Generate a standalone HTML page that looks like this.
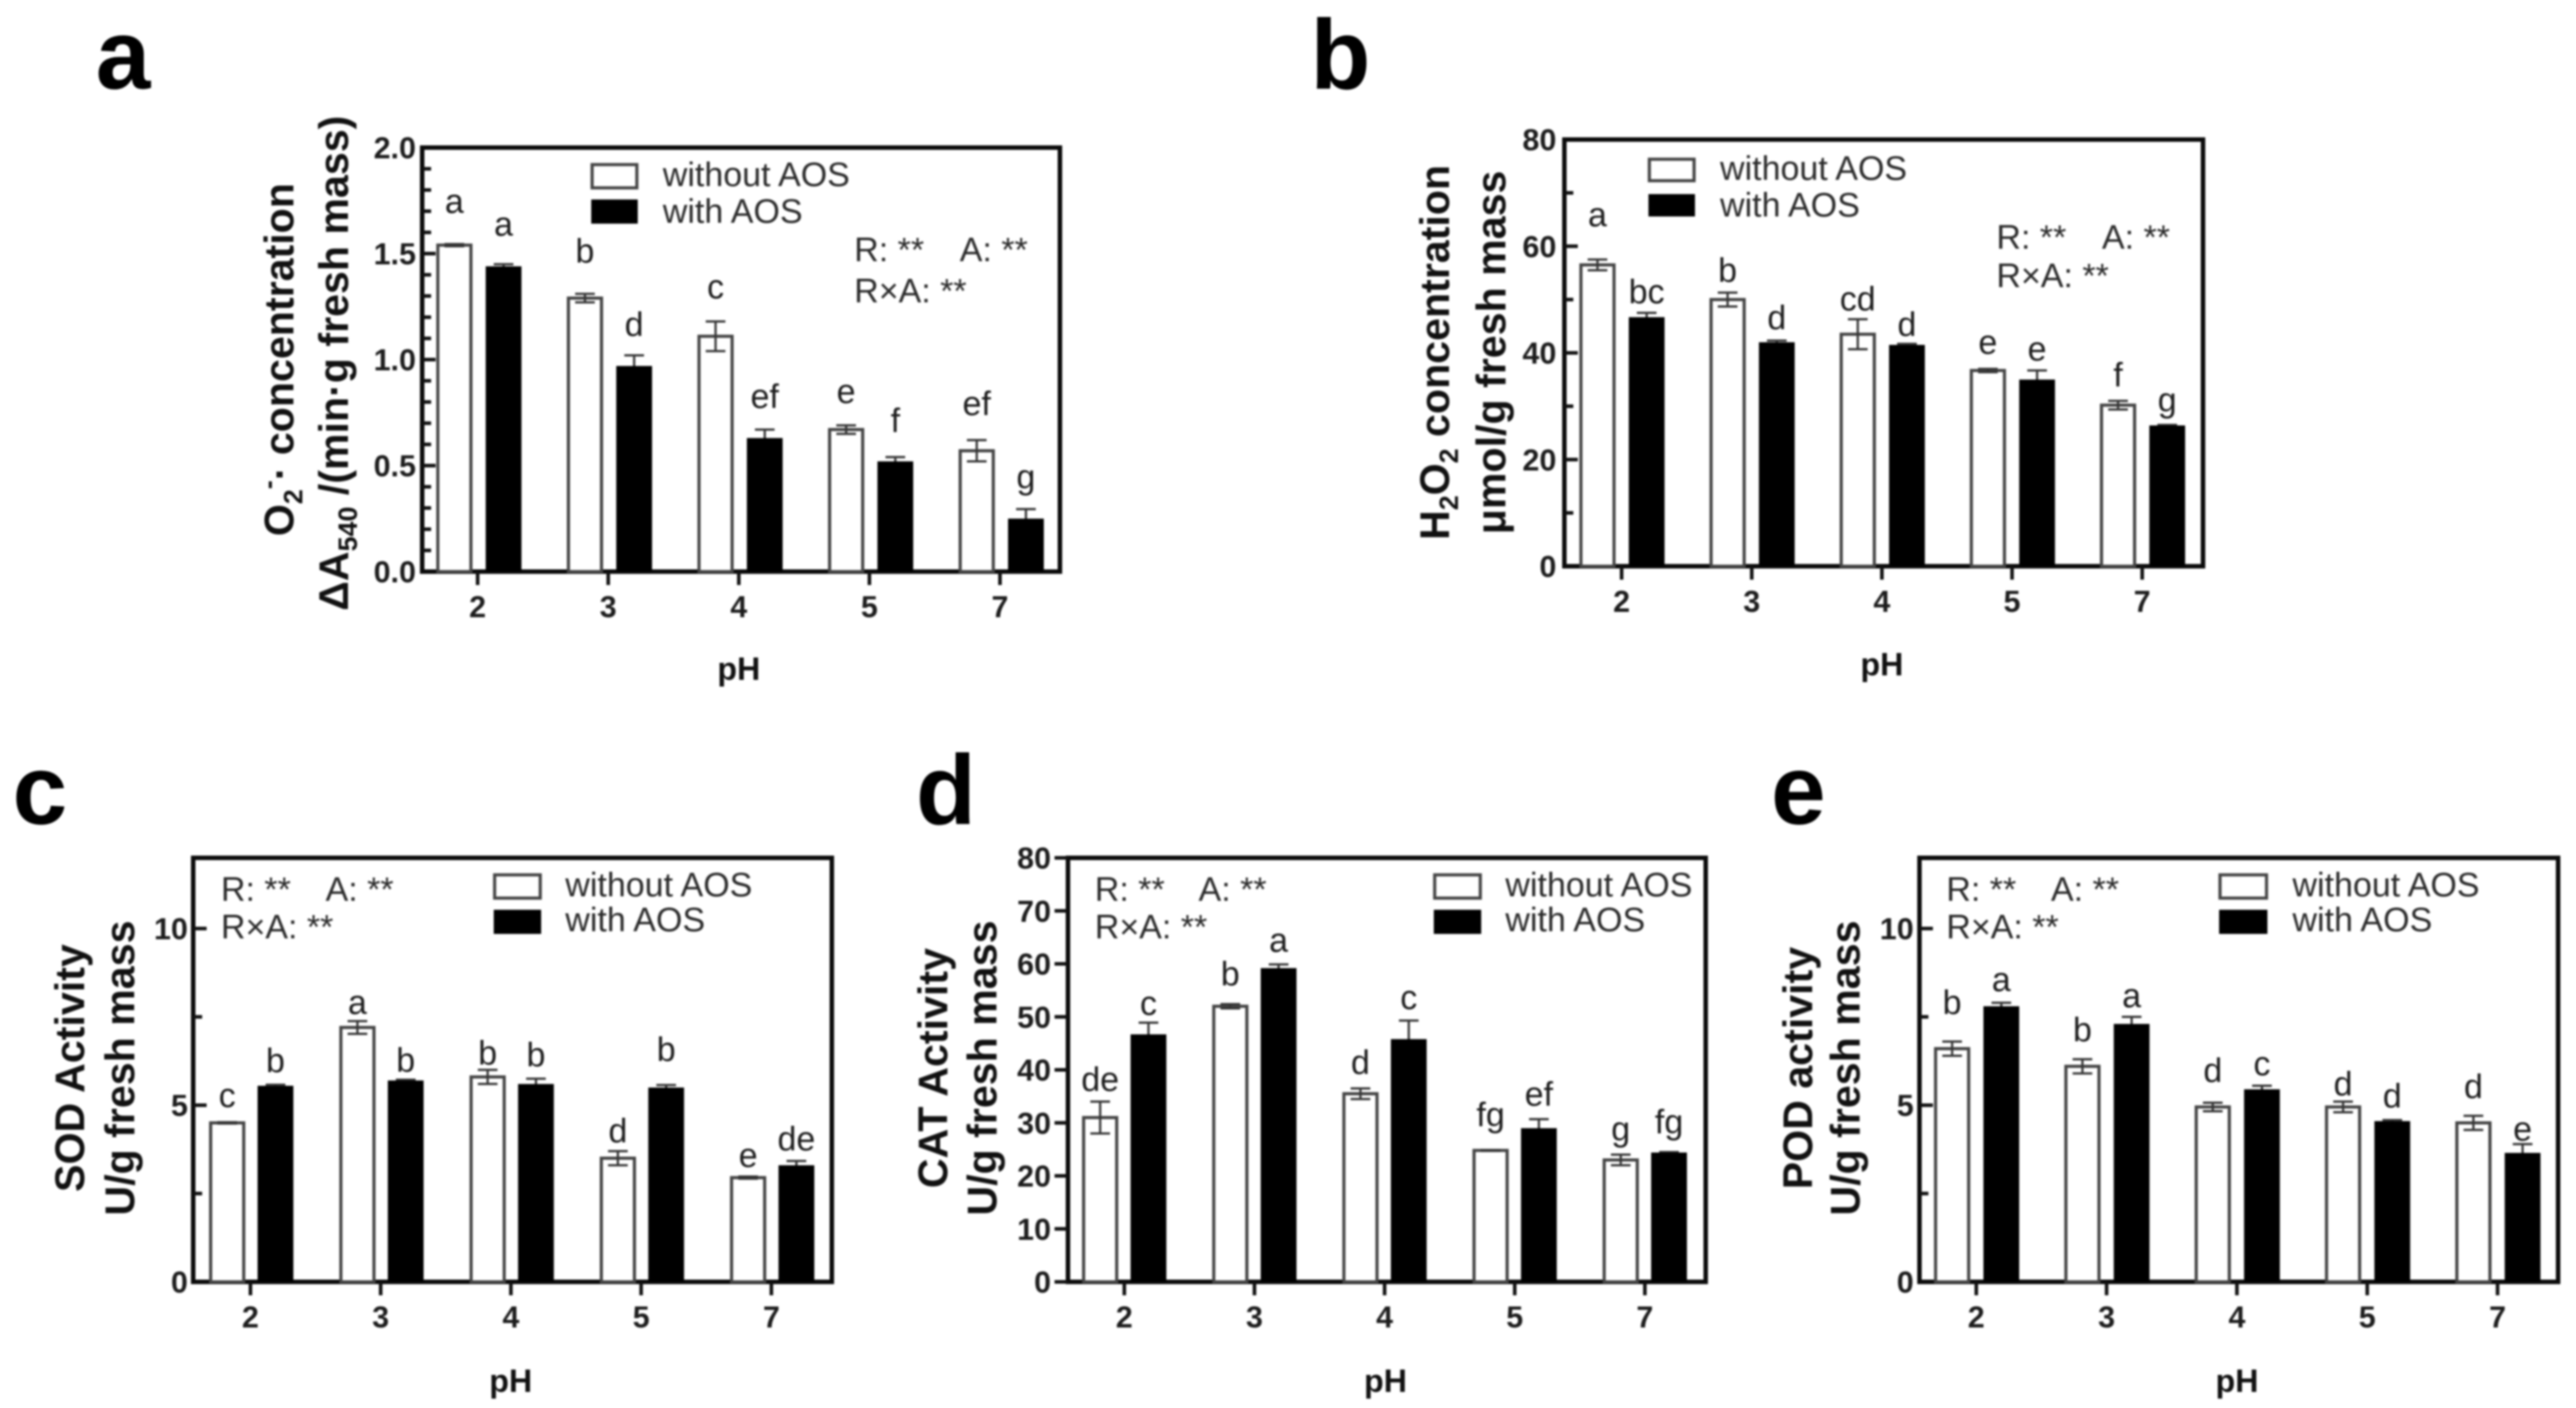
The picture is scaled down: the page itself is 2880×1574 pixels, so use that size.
<!DOCTYPE html>
<html lang="en">
<head>
<meta charset="utf-8">
<title>AOS effects on reactive oxygen species and antioxidant enzymes across pH</title>
<style>
html,body{margin:0;padding:0;background:#fff;width:2880px;height:1574px;overflow:hidden}
svg{display:block;filter:blur(1px)}
text{font-family:"Liberation Sans",sans-serif;fill:#1c1c1c}
.panel-letter{font-size:110px;font-weight:bold;fill:#000}
.ytitle{font-size:46px;font-weight:bold;text-anchor:middle;fill:#111}
.legend-text,.stat{font-size:38px;fill:#2a2a2a}
.phlabel{font-size:36px;font-weight:bold;text-anchor:middle;fill:#111}
.frame{fill:none;stroke:#0a0a0a;stroke-width:5}
</style>
</head>
<body>
<svg id="figure" xmlns="http://www.w3.org/2000/svg" width="2880" height="1574" viewBox="0 0 2880 1574">
  <rect width="2880" height="1574" fill="#fff"/>

  <g id="panel-a">
    <text class="panel-letter" x="107" y="99">a</text>
    <text class="ytitle" transform="translate(328,402) rotate(-90)">O<tspan font-size="30" dy="10">2</tspan><tspan font-size="30" dy="-28">-</tspan><tspan dy="18">· concentration</tspan></text>
    <text class="ytitle" transform="translate(389,406) rotate(-90)">ΔA<tspan font-size="30" dy="10">540</tspan><tspan dy="-10"> /(min·g fresh mass)</tspan></text>
    <rect class="frame" x="472" y="165" width="713" height="474"/>
    <rect x="662" y="184" width="50" height="26" fill="#fff" stroke="#444" stroke-width="3.5"/>
    <rect x="661" y="223" width="52" height="27" fill="#000"/>
    <text class="legend-text" x="741" y="208">without AOS</text>
    <text class="legend-text" x="741" y="249">with AOS</text>
    <text class="stat" x="955" y="292">R: **</text>
    <text class="stat" x="1073" y="292">A: **</text>
    <text class="stat" x="955" y="338">R×A: **</text>
    <text class="phlabel" x="826" y="760">pH</text>
  </g>

  <g id="panel-b">
    <text class="panel-letter" x="1465" y="99">b</text>
    <text class="ytitle" transform="translate(1620,394) rotate(-90)">H<tspan font-size="30" dy="10">2</tspan><tspan dy="-10">O</tspan><tspan font-size="30" dy="10">2</tspan><tspan dy="-10"> concentration</tspan></text>
    <text class="ytitle" transform="translate(1683,394) rotate(-90)">μmol/g fresh mass</text>
    <rect class="frame" x="1749" y="156" width="714" height="477"/>
    <rect x="1844" y="178" width="50" height="24" fill="#fff" stroke="#444" stroke-width="3.5"/>
    <rect x="1843" y="217" width="52" height="25" fill="#000"/>
    <text class="legend-text" x="1923" y="201">without AOS</text>
    <text class="legend-text" x="1923" y="242">with AOS</text>
    <text class="stat" x="2232" y="278">R: **</text>
    <text class="stat" x="2350" y="278">A: **</text>
    <text class="stat" x="2232" y="321">R×A: **</text>
    <text class="phlabel" x="2104" y="755">pH</text>
  </g>

  <g id="panel-c">
    <text class="panel-letter" x="14" y="921">c</text>
    <text class="ytitle" transform="translate(94,1194) rotate(-90)">SOD Activity</text>
    <text class="ytitle" transform="translate(150,1194) rotate(-90)">U/g fresh mass</text>
    <rect class="frame" x="216" y="959" width="714" height="474"/>
    <rect x="553" y="978" width="51" height="26" fill="#fff" stroke="#444" stroke-width="3.5"/>
    <rect x="552" y="1017" width="53" height="27" fill="#000"/>
    <text class="legend-text" x="632" y="1002">without AOS</text>
    <text class="legend-text" x="632" y="1041">with AOS</text>
    <text class="stat" x="247" y="1007">R: **</text>
    <text class="stat" x="364" y="1007">A: **</text>
    <text class="stat" x="247" y="1049">R×A: **</text>
    <text class="phlabel" x="571" y="1556">pH</text>
  </g>

  <g id="panel-d">
    <text class="panel-letter" x="1024" y="921">d</text>
    <text class="ytitle" transform="translate(1059,1194) rotate(-90)">CAT Activity</text>
    <text class="ytitle" transform="translate(1114,1194) rotate(-90)">U/g fresh mass</text>
    <rect class="frame" x="1194" y="959" width="713" height="474"/>
    <rect x="1604" y="978" width="51" height="26" fill="#fff" stroke="#444" stroke-width="3.5"/>
    <rect x="1603" y="1017" width="53" height="27" fill="#000"/>
    <text class="legend-text" x="1683" y="1002">without AOS</text>
    <text class="legend-text" x="1683" y="1041">with AOS</text>
    <text class="stat" x="1224" y="1007">R: **</text>
    <text class="stat" x="1340" y="1007">A: **</text>
    <text class="stat" x="1224" y="1049">R×A: **</text>
    <text class="phlabel" x="1549" y="1556">pH</text>
  </g>

  <g id="panel-e">
    <text class="panel-letter" x="1980" y="921">e</text>
    <text class="ytitle" transform="translate(2026,1194) rotate(-90)">POD activity</text>
    <text class="ytitle" transform="translate(2079,1194) rotate(-90)">U/g fresh mass</text>
    <rect class="frame" x="2146" y="959" width="714" height="474"/>
    <rect x="2482" y="978" width="52" height="26" fill="#fff" stroke="#444" stroke-width="3.5"/>
    <rect x="2481" y="1017" width="54" height="27" fill="#000"/>
    <text class="legend-text" x="2563" y="1002">without AOS</text>
    <text class="legend-text" x="2563" y="1041">with AOS</text>
    <text class="stat" x="2176" y="1007">R: **</text>
    <text class="stat" x="2293" y="1007">A: **</text>
    <text class="stat" x="2176" y="1049">R×A: **</text>
    <text class="phlabel" x="2501" y="1556">pH</text>
  </g>
</svg>

<script>
// Shared categories
const phCategories = ['2', '3', '4', '5', '7'];

// Panel a: superoxide
const aWithout = [1.54, 1.29, 1.11, 0.67, 0.57];
const aWithoutErr = [0.005, 0.02, 0.07, 0.02, 0.05];
const aWith = [1.44, 0.97, 0.63, 0.52, 0.25];
const aWithErr = [0.01, 0.05, 0.04, 0.02, 0.045];
const aWithoutLetters = ['a', 'b', 'c', 'e', 'ef'];
const aWithLetters = ['a', 'd', 'ef', 'f', 'g'];
const aTickLabels = ['0.0', '0.5', '1.0', '1.5', '2.0'];

// Panel b: hydrogen peroxide
const bWithout = [56.5, 50, 43.5, 36.7, 30.2];
const bWithoutErr = [1, 1.3, 2.8, 0.3, 0.8];
const bWith = [46.7, 42, 41.5, 35, 26.4];
const bWithErr = [0.8, 0.3, 0.2, 1.7, 0.1];
const bWithoutLetters = ['a', 'b', 'cd', 'e', 'f'];
const bWithLetters = ['bc', 'd', 'd', 'e', 'g'];
const bTickLabels = ['0', '20', '40', '60', '80'];

// Panel c: SOD
const cWithout = [4.5, 7.2, 5.8, 3.5, 2.95];
const cWithoutErr = [0.02, 0.18, 0.2, 0.2, 0.03];
const cWith = [5.55, 5.7, 5.6, 5.5, 3.3];
const cWithErr = [0.03, 0.02, 0.15, 0.07, 0.12];
const cWithoutLetters = ['c', 'a', 'b', 'd', 'e'];
const cWithLetters = ['b', 'b', 'b', 'b', 'de'];
const cTickLabels = ['0', '5', '10'];

// Panel d: CAT
const dWithout = [31, 52, 35.5, 24.8, 23];
const dWithoutErr = [3, 0.4, 1, 0.05, 1];
const dWith = [46.7, 59.2, 45.8, 29, 24.4];
const dWithErr = [2.2, 0.7, 3.5, 1.7, 0.1];
const dWithoutLetters = ['de', 'b', 'd', 'fg', 'g'];
const dWithLetters = ['c', 'a', 'c', 'ef', 'fg'];
const dTickLabels = ['0', '10', '20', '30', '40', '50', '60', '70', '80'];

// Panel e: POD
const eWithout = [6.6, 6.1, 4.95, 4.95, 4.5];
const eWithoutErr = [0.2, 0.2, 0.12, 0.15, 0.2];
const eWith = [7.8, 7.3, 5.45, 4.55, 3.65];
const eWithErr = [0.1, 0.2, 0.1, 0.03, 0.25];
const eWithoutLetters = ['b', 'b', 'd', 'd', 'd'];
const eWithLetters = ['a', 'a', 'c', 'd', 'e'];
const eTickLabels = ['0', '5', '10'];

const SVG_NS = 'http://www.w3.org/2000/svg';

function shape(parent, tag, props) {
  const el = document.createElementNS(SVG_NS, tag);
  for (const k in props) el.setAttribute(k, props[k]);
  parent.appendChild(el);
  return el;
}

function drawErrorBar(g, cx, yTop, yBottom, capHalf) {
  const stem = shape(g, 'line', {x1: cx, x2: cx, y1: yTop, y2: yBottom, stroke: '#333', 'stroke-width': 2.5});
  
  
  const capTop = shape(g, 'line', {x1: cx - capHalf, x2: cx + capHalf, y1: yTop, y2: yTop, stroke: '#333', 'stroke-width': 2.5});
  
  
  const capBottom = shape(g, 'line', {x1: cx - capHalf, x2: cx + capHalf, y1: yBottom, y2: yBottom, stroke: '#333', 'stroke-width': 2.5});
  
  
}

function drawPanel(id, cfg) {
  const g = document.getElementById(id);
  const yOf = v => cfg.bottom - (v / cfg.yMax) * (cfg.bottom - cfg.top);
  const xOf = i => cfg.firstX + i * cfg.stepX;
  const barW = 37;

  // Y axis ticks
  const labelVals = cfg.tickLabels.map(Number);
  labelVals.forEach((v, i) => {
    const y = yOf(v);
    const x2 = cfg.tickOutward ? cfg.left - 15 : cfg.left + 15;
    if (v > 0 && v < cfg.yMax || cfg.tickOutward) {
      const tick = shape(g, 'line', {x1: cfg.left, x2: x2, y1: y, y2: y, stroke: '#111', 'stroke-width': 4});
      
      
    }
    const t = shape(g, 'text', {x: cfg.tickRight, y: y + 12, 'text-anchor': 'end', 'font-size': 34, 'font-weight': 'bold', fill: '#111'});
    t.textContent = cfg.tickLabels[i];
    
    
  });
  if (cfg.minorStep) {
    const count = Math.round(cfg.yMax / cfg.minorStep);
    for (let k = 1; k < count; k++) {
      const v = k * cfg.minorStep;
      if (labelVals.some(m => Math.abs(m - v) < 1e-6)) continue;
      const y = yOf(v);
      const minor = shape(g, 'line', {x1: cfg.left, x2: cfg.left + 10, y1: y, y2: y, stroke: '#111', 'stroke-width': 4});
      
      
    }
  }

  // Categories and bars
  phCategories.forEach((cat, i) => {
    const cx = xOf(i);
    const tick = shape(g, 'line', {x1: cx, x2: cx, y1: cfg.bottom, y2: cfg.bottom + 15, stroke: '#111', 'stroke-width': 4});
    
    
    const lab = shape(g, 'text', {x: cx, y: cfg.xLabelY, 'text-anchor': 'middle', 'font-size': 34, 'font-weight': 'bold'});
    lab.textContent = cat;
    
    

    // without AOS
    const wx = cx + cfg.offWithout;
    const wTop = yOf(cfg.without[i]);
    const wBar = shape(g, 'rect', {x: wx - barW / 2, y: wTop, width: barW, height: cfg.bottom - wTop, fill: '#fff', stroke: '#444', 'stroke-width': 3.5});
    
    
    const wErrTop = yOf(cfg.without[i] + cfg.withoutErr[i]);
    drawErrorBar(g, wx, wErrTop, yOf(cfg.without[i] - cfg.withoutErr[i]), 11);
    const wLetter = shape(g, 'text', {x: wx, y: wErrTop - cfg.gapsWithout[i] + 11, 'text-anchor': 'middle', 'font-size': 38, fill: '#2a2a2a'});
    wLetter.textContent = cfg.lettersWithout[i];
    
    

    // with AOS
    const bx = cx + cfg.offWith;
    const bTop = yOf(cfg.with[i]);
    const bErrTop = yOf(cfg.with[i] + cfg.withErr[i]);
    drawErrorBar(g, bx, bErrTop, bTop + 2, 11);
    const bBar = shape(g, 'rect', {x: bx - barW / 2 - 1.5, y: bTop, width: barW + 3, height: cfg.bottom - bTop, fill: '#000'});
    
    
    const bLetter = shape(g, 'text', {x: bx, y: bErrTop - cfg.gapsWith[i] + 11, 'text-anchor': 'middle', 'font-size': 38, fill: '#2a2a2a'});
    bLetter.textContent = cfg.lettersWith[i];
    
    
  });
}

drawPanel('panel-a', {
  without: aWithout, withoutErr: aWithoutErr, with: aWith, withErr: aWithErr,
  lettersWithout: aWithoutLetters, lettersWith: aWithLetters, tickLabels: aTickLabels,
  yMax: 2, minorStep: 0.1, left: 472, top: 165, bottom: 639, tickRight: 465,
  firstX: 534, stepX: 146, offWithout: -26, offWith: 29, xLabelY: 690,
  gapsWithout: [46, 46, 37, 36, 39], gapsWith: [43, 33, 35, 39, 34]
});
drawPanel('panel-b', {
  without: bWithout, withoutErr: bWithoutErr, with: bWith, withErr: bWithErr,
  lettersWithout: bWithoutLetters, lettersWith: bWithLetters, tickLabels: bTickLabels,
  yMax: 80, minorStep: 10, left: 1749, top: 156, bottom: 633, tickRight: 1740,
  firstX: 1813, stepX: 145.5, offWithout: -27, offWith: 28, xLabelY: 684,
  gapsWithout: [48, 23, 21, 28, 27], gapsWith: [22, 24, 20, 22, 26]
});
drawPanel('panel-c', {
  without: cWithout, withoutErr: cWithoutErr, with: cWith, withErr: cWithErr,
  lettersWithout: cWithoutLetters, lettersWith: cWithLetters, tickLabels: cTickLabels,
  yMax: 12, minorStep: 2.5, left: 216, top: 959, bottom: 1433, tickRight: 210,
  firstX: 280, stepX: 145.6, offWithout: -26, offWith: 28, xLabelY: 1484,
  gapsWithout: [28, 19, 17, 21, 22], gapsWith: [25, 20, 25, 38, 23]
});
drawPanel('panel-d', {
  without: dWithout, withoutErr: dWithoutErr, with: dWith, withErr: dWithErr,
  lettersWithout: dWithoutLetters, lettersWith: dWithLetters, tickLabels: dTickLabels,
  yMax: 80, minorStep: 0, tickOutward: true, left: 1194, top: 959, bottom: 1433, tickRight: 1175,
  firstX: 1257, stepX: 145.5, offWithout: -27, offWith: 27, xLabelY: 1484,
  gapsWithout: [23, 32, 27, 38, 27], gapsWith: [20, 25, 24, 26, 32]
});
drawPanel('panel-e', {
  without: eWithout, withoutErr: eWithoutErr, with: eWith, withErr: eWithErr,
  lettersWithout: eWithoutLetters, lettersWith: eWithLetters, tickLabels: eTickLabels,
  yMax: 12, minorStep: 2.5, left: 2146, top: 959, bottom: 1433, tickRight: 2139.5,
  firstX: 2209.5, stepX: 145.7, offWithout: -27, offWith: 28, xLabelY: 1484,
  gapsWithout: [42, 31, 34, 18, 31], gapsWith: [24, 22, 23, 25, 15]
});
</script>
</body>
</html>
